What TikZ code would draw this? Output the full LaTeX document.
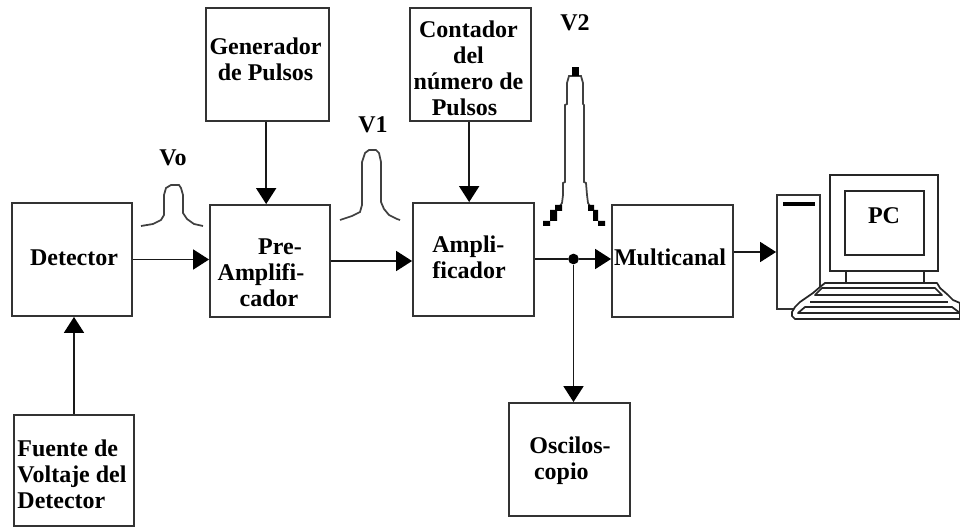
\documentclass[tikz,border=0pt]{standalone}
\usepackage{fontspec}
\setmainfont{Liberation Serif}
\usetikzlibrary{arrows.meta}
\tikzset{
 box/.style={draw=black!80,line width=1.4pt,inner sep=0pt},
 lbl/.style={font=\bfseries\fontsize{18}{19.5}\selectfont,align=center,inner sep=0pt,text=black},
 wire/.style={draw=black!90,line width=1.4pt},
 arr/.style={wire,-{Triangle[length=12pt,width=15pt,color=black]}},
 pulse/.style={draw=black!75,line width=1.3pt},
 pcline/.style={draw=black!85,line width=1.3pt,line join=round},
}
\newcommand{\boxat}[5]{\node[box,minimum width=#4*0.75pt,minimum height=#5*0.75pt] (#1) at (#2,#3) {};}
\begin{document}
\begin{tikzpicture}[x=0.75pt,y=-0.75pt]
\useasboundingbox[fill=white] (0,0) rectangle (960,527);
% boxes (centre x, centre y, w, h)
\boxat{det}{72}{259.5}{120}{113}
\boxat{pre}{270}{261}{120}{112}
\boxat{amp}{473.5}{259.5}{121}{113}
\boxat{mc}{672.5}{261}{121}{112}
\boxat{gen}{267.5}{64.5}{123}{113}
\boxat{cnt}{470.5}{64.5}{121}{113}
\boxat{fue}{74}{470.5}{120}{111}
\boxat{osc}{569.5}{459.5}{121}{113}
\boxat{tower}{798.5}{252}{43}{114}
% labels
\node[lbl] (tdet) at (74,258) {Detector};
\node[lbl] (tpre) at (261,273) {\hspace*{28.5pt}Pre-\\Amplifi-\\\hspace*{12pt}cador};
\node[lbl,align=left] (tamp) at (469,257) {Ampli-\\ficador};
\node[lbl] (tmc) at (670,257) {Multicanal};
\node[lbl] (tgen) at (265.5,59) {Generador\\de Pulsos};
\node[lbl] (tcnt) at (468.5,68) {Contador\\del\hspace*{15pt}\\número de\\Pulsos\hspace*{6pt}};
\node[lbl,align=left] (tfue) at (72,474) {Fuente de\\Voltaje del\\Detector};
\node[lbl,align=left] (tosc) at (570,461) {Oscilos-\\\hspace*{3.5pt}copio};
\node[lbl] (v0) at (173,158) {Vo};
\node[lbl] (v1) at (373,125) {V1};
\node[lbl] (v2) at (575,23) {V2};
% connectors
\draw[arr] (det.east) -- (det.east -| pre.west);
\draw[arr] (pre.east) -- (pre.east -| amp.west);
\draw[arr] ([xshift=-1pt]gen.south) -- ([xshift=-1pt]gen.south |- pre.north);
\draw[arr] ([xshift=-1pt]cnt.south) -- ([xshift=-1pt]cnt.south |- amp.north);
\draw[arr] (fue.north) -- (fue.north |- det.south);
\node[circle,fill=black,inner sep=0pt,minimum size=8pt] (dot) at (573.5,259) {};
\draw[wire] (dot -| amp.east) -- (dot);
\draw[arr] (dot) -- (dot -| mc.west);
\draw[arr] (dot) -- (dot |- osc.north);
\draw[arr] (tower.west -| mc.east) -- (tower.west);
% pulses
\draw[pulse] (141,226) -- (153,224) -- (161,220) -- (164,215) -- (164,195) -- (166,188) -- (171,185) -- (179,185) -- (181,188) -- (183,195) -- (183,213) -- (187,219) -- (194,224) -- (203,226);
\draw[pulse] (340,220) -- (352,216) -- (360,212) -- (362,205) -- (362,162) -- (365,153) -- (369,150) -- (376,150) -- (379,153) -- (381,162) -- (381,202) -- (384,209) -- (389,215) -- (397,219) -- (400,220);
\draw[pulse] (560,206) -- (562,203) -- (563,195) -- (563,183) -- (565,182) -- (565,105) -- (567,104) -- (567,83) -- (569,76) -- (581,76) -- (583,83) -- (583,104) -- (584,105) -- (584,182) -- (586,183) -- (587,195) -- (588,203) -- (590,206);
\fill[black] (572,67) rectangle (579,76);
\fill[black] (543,221) rectangle (550,226) (550,210) rectangle (557,221) (555,205) rectangle (562,211);
\fill[black] (588,205) rectangle (594,211) (593,210) rectangle (598,221) (598,221) rectangle (605,226);
% PC
\node[draw=black!85,line width=1.3pt,inner sep=0pt,minimum width=108*0.75pt,minimum height=96*0.75pt] (mon) at (884,223) {};
\node[draw=black!85,line width=1.3pt,inner sep=0pt,minimum width=79*0.75pt,minimum height=64*0.75pt] (scr) at (884.5,223) {};
\node[lbl] (tpc) at (884,216) {PC};
\draw[black,line width=2.6pt] (783,204) -- (815,204);
\draw[pcline] (846,271) -- (846,283) (924,271) -- (924,283);
\filldraw[pcline,fill=white] (825,283) -- (937,283) -- (940,288) -- (948,295) -- (953,300) -- (960,303) -- (960,319) -- (795,319) -- (792,316) -- (792,312) -- (795,307) -- (800,302) -- (813,293) -- (820,287) -- cycle;
\draw[pcline] (822,288) -- (935,288) -- (942,295) -- (815,295) -- cycle;
\draw[pcline,line width=1.8pt] (810,302) -- (948,302);
\draw[pcline] (805,307) -- (952,307) -- (960,313) -- (798,313) -- cycle;
\end{tikzpicture}
\end{document}
